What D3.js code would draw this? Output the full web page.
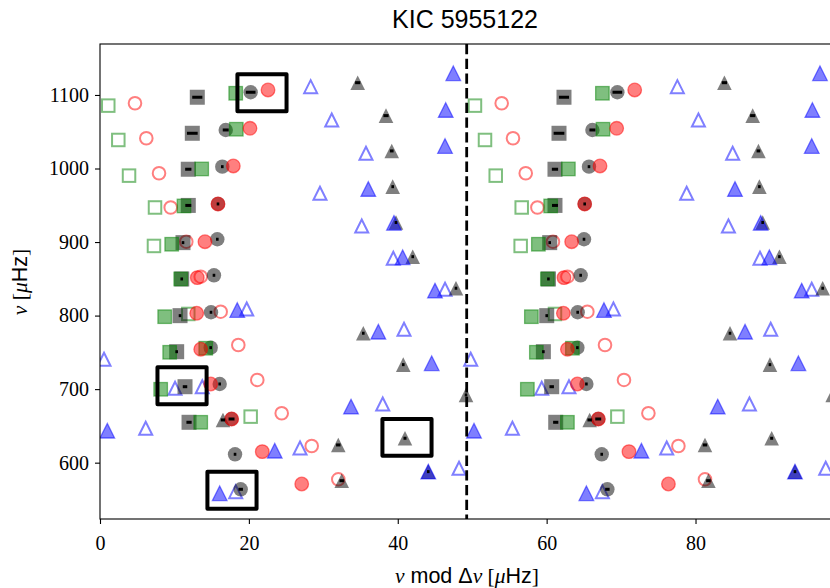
<!DOCTYPE html>
<html>
<head>
<meta charset="utf-8">
<script src="https://cdn.jsdelivr.net/npm/d3@7"></script>
<style>
body { margin: 0; background: #fff; }
</style>
</head>
<body>
<svg id="chart"></svg>
<script>
var W = 830,
    H = 588;

// large frequency separation (uHz)
var dnu = 49.26;

// model modes, grey: [nu mod dnu, nu, xerr]
var modelL0 = [[13.07,1096.9,0.68],[12.40,1047.9,0.72],[11.86,999.0,0.42],[11.86,949.8,0.4],[11.15,899.2,0.15],[10.98,849.8,0.15],[10.75,799.9,0.15],[10.30,750.9,0.15],[11.42,703.3,0.3],[11.96,654.9,0.35]];
var modelL1 = [[20.24,1103.7,0.65],[16.89,1052.4,0.4],[16.43,1002.5,0.15],[15.85,951.8,0.15],[15.76,903.8,0.15],[15.31,854.8,0.15],[14.91,804.5,0.15],[14.87,756.4,0.15],[16.08,707.0,0.15],[17.67,659.4,0.4],[18.14,611.4,0.12],[18.90,563.8,0.3]];
var modelL2 = [[34.62,1116.7,0.35],[38.42,1071.9,0.35],[39.19,1023.9,0.25],[39.32,975.3,0.15],[39.76,926.6,0.15],[42.01,880.1,0.15],[47.82,837.2,0.15],[35.37,776.0,0.12],[40.74,733.3,0.15],[49.17,692.1,0.1],[32.01,624.1,0.3],[40.97,633.2,0.2],[32.47,575.5,0.3],[16.52,658.1,0.3],[44.10,587.8,0.15]];

// observed modes: [nu mod dnu, nu]
var l0Filled = [[18.23,1102.3],[18.31,1053.4],[13.66,999.4],[11.28,949.1],[9.63,897.0],[10.84,849.8],[8.69,798.5],[9.36,750.1],[14.20,755.6],[8.15,699.8],[13.53,654.9]];
var l0Open = [[1.11,1085.5],[2.46,1038.8],[3.90,990.3],[7.39,947.0],[7.25,894.7],[11.86,802.2],[20.24,662.6]];
var l1Filled = [[22.57,1106.8],[20.15,1054.7],[17.91,1003.5],[15.85,951.8],[14.10,900.5],[13.07,851.6],[12.99,803.2],[13.53,754.2],[14.87,707.0],[17.69,659.4],[21.80,615.0],[27.10,571.0]];
var l1Open = [[4.70,1088.7],[6.22,1041.1],[7.93,993.5],[9.50,947.0],[11.59,900.5],[13.53,852.9],[16.21,805.3],[18.58,760.0],[21.13,712.5],[24.41,667.2],[28.44,622.7],[32.01,577.4]];
var l2Filled = [[47.46,1129.5],[46.44,1079.6],[46.35,1030.6],[36.04,972.2],[39.49,926.0],[40.66,879.3],[45.00,833.9],[37.39,778.1],[44.56,735.2],[33.72,676.2],[44.10,587.8],[18.44,807.6],[0.98,643.5],[23.47,616.3],[16.08,558.4]];
var l2Open = [[28.30,1111.3],[31.13,1066.0],[35.73,1020.7],[29.55,966.3],[35.16,921.9],[39.40,877.9],[46.35,835.8],[40.84,781.4],[0.54,740.6],[37.98,679.8],[26.87,620.0],[48.23,592.4],[19.71,809.0],[10.08,701.2],[13.74,703.3],[6.14,646.8],[18.23,560.6]];

// highlighted modes: [centre nu mod dnu, centre nu]
var boxes = [[21.76,1103.0],[11.02,704.6],[17.73,562.5],[41.24,634.3]];
var boxHalfW = 3.3, boxHalfH = 25;

var xTicks = [0, 20, 40, 60, 80];
var yTicks = [600, 700, 800, 900, 1000, 1100];

var x = d3.scaleLinear().domain([0, 2 * dnu]).range([100, 100 + 2 * dnu * 7.444]);
var y = d3.scaleLinear().domain([523.4, 1169.3]).range([519, 44]);

var SVG = d3.select("#chart").attr("width", W).attr("height", H)
    .style("font-family", "'Liberation Serif', serif");

SVG.append("defs").append("clipPath").attr("id", "clip")
    .append("rect").attr("x", x.range()[0]).attr("y", 44)
    .attr("width", x.range()[1] - x.range()[0]).attr("height", 519 - 44);

//标题
SVG.append("text").attr("x", 465).attr("y", 28).attr("text-anchor", "middle")
    .style("font-family", "'Liberation Sans', Arial, sans-serif").style("font-size", "25px")
    .text("KIC 5955122");

var g = SVG.append("g").attr("clip-path", "url(#clip)");

// each mode is drawn twice: at nu mod dnu and shifted by dnu
function twice(arr) {
    var out = [];
    arr.forEach(function (d) {
        out.push({x: d[0], y: d[1], e: d[2]});
        out.push({x: d[0] + dnu, y: d[1], e: d[2]});
    });
    return out;
}

var tri = "M0,-7.3L7.3,7.3L-7.3,7.3Z";
var triOpen = "M0,-6.5L6.5,6.5L-6.5,6.5Z";

function squares(data, size, fill, stroke, sw) {
    g.append("g").selectAll("rect").data(twice(data)).enter().append("rect")
        .attr("x", function (d) { return x(d.x) - size / 2; })
        .attr("y", function (d) { return y(d.y) - size / 2; })
        .attr("width", size).attr("height", size)
        .attr("fill", fill).attr("stroke", stroke).attr("stroke-width", sw);
}
function circles(data, r, fill, stroke, sw) {
    g.append("g").selectAll("circle").data(twice(data)).enter().append("circle")
        .attr("cx", function (d) { return x(d.x); })
        .attr("cy", function (d) { return y(d.y); })
        .attr("r", r)
        .attr("fill", fill).attr("stroke", stroke).attr("stroke-width", sw);
}
function triangles(data, path, fill, stroke, sw) {
    g.append("g").selectAll("path").data(twice(data)).enter().append("path")
        .attr("d", path)
        .attr("transform", function (d) { return "translate(" + x(d.x) + "," + y(d.y) + ")"; })
        .attr("fill", fill).attr("stroke", stroke).attr("stroke-width", sw)
        .attr("stroke-linejoin", "miter");
}

var green = "rgba(0,128,0,0.5)", red = "rgba(255,0,0,0.5)", blue = "rgba(0,0,255,0.5)", grey = "rgba(0,0,0,0.5)";

// open symbols
squares(l0Open, 12.5, "none", green, 2);
circles(l1Open, 6.3, "none", red, 2);
triangles(l2Open, triOpen, "none", blue, 2);

// model
squares(modelL0, 15, grey, "none", 0);
circles(modelL1, 7.2, grey, "none", 0);
triangles(modelL2, tri, grey, "none", 0);

// filled observed
squares(l0Filled, 13.5, green, green, 1.3);
circles(l1Filled, 6.8, red, red, 1.3);
triangles(l2Filled, tri, blue, blue, 1.3);

// errorbars of model modes
var errs = twice(modelL0).concat(twice(modelL1), twice(modelL2));
g.append("g").selectAll("rect").data(errs).enter().append("rect")
    .attr("x", function (d) { return x(d.x) - Math.max(1.3, x(d.e) - x(0)); })
    .attr("y", function (d) { return y(d.y) - 1.5; })
    .attr("width", function (d) { return Math.max(2.6, 2 * (x(d.e) - x(0))); })
    .attr("height", 3)
    .attr("fill", "#000");

// dnu line
g.append("line").attr("x1", x(dnu)).attr("x2", x(dnu)).attr("y1", 44).attr("y2", 519)
    .attr("stroke", "#000").attr("stroke-width", 2.8).attr("stroke-dasharray", "10.3,4.4");

// boxes
SVG.append("g").selectAll("rect").data(boxes).enter().append("rect")
    .attr("x", function (d) { return x(d[0] - boxHalfW); })
    .attr("y", function (d) { return y(d[1] + boxHalfH); })
    .attr("width", function (d) { return x(d[0] + boxHalfW) - x(d[0] - boxHalfW); })
    .attr("height", function (d) { return y(d[1] - boxHalfH) - y(d[1] + boxHalfH); })
    .attr("fill", "none").attr("stroke", "#000").attr("stroke-width", 4)
    .attr("stroke-linejoin", "round");

// frame
SVG.append("rect").attr("x", x.range()[0]).attr("y", 44)
    .attr("width", x.range()[1] - x.range()[0]).attr("height", 519 - 44)
    .attr("fill", "none").attr("stroke", "#000").attr("stroke-width", 1.1);

//坐标轴
var xAxis = SVG.append("g").attr("transform", "translate(0,519)")
    .call(d3.axisBottom(x).tickValues(xTicks).tickFormat(d3.format("d")).tickSize(5).tickPadding(12).tickSizeOuter(0));
var yAxis = SVG.append("g").attr("transform", "translate(100,0)")
    .call(d3.axisLeft(y).tickValues(yTicks).tickFormat(d3.format("d")).tickSize(5).tickPadding(6).tickSizeOuter(0));
[xAxis, yAxis].forEach(function (a) {
    a.select(".domain").remove();
    a.selectAll("line").attr("stroke", "#000").attr("stroke-width", 1.1);
    a.selectAll("text").attr("fill", "#000")
        .style("font-family", "'Liberation Serif', serif").style("font-size", "20px");
});

// axis labels
function label(t, parts) {
    parts.forEach(function (p) {
        t.append("tspan").text(p[0])
            .style("font-family", p[1] === "s" ? "'Liberation Sans', Arial, sans-serif" : "'Liberation Serif', serif")
            .style("font-style", p[2] ? "italic" : "normal");
    });
}
var xl = SVG.append("text").attr("x", 467).attr("y", 583).attr("text-anchor", "middle")
    .style("font-size", "21.5px");
label(xl, [["ν", "r", 1], [" mod Δ", "s", 0], ["ν", "r", 1], [" [", "r", 0], ["μ", "r", 1], ["Hz", "s", 0], ["]", "r", 0]]);

var yl = SVG.append("text").attr("transform", "translate(27,282) rotate(-90)").attr("text-anchor", "middle")
    .style("font-size", "21.5px");
label(yl, [["ν", "r", 1], [" [", "r", 0], ["μ", "r", 1], ["Hz", "s", 0], ["]", "r", 0]]);
</script>
</body>
</html>
